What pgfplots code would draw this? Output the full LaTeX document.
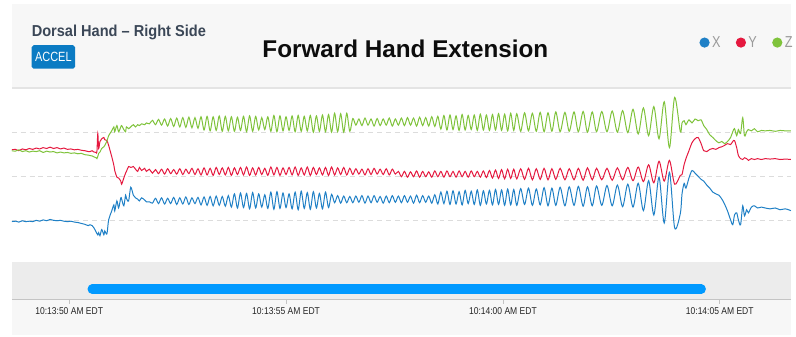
\documentclass[border=0pt]{standalone}
\usepackage{fontspec}
\setmainfont{Liberation Sans}
\usepackage{graphicx}
\usepackage{pgfplots}
\usepackage{pgfplotstable}
\pgfplotsset{compat=1.18}

\definecolor{seriesX}{HTML}{1F80C6}
\definecolor{seriesY}{HTML}{E5193F}
\definecolor{seriesZ}{HTML}{7FC33B}
\definecolor{headerbg}{HTML}{F7F7F7}
\definecolor{headerrule}{HTML}{E4E4E4}
\definecolor{navbg}{HTML}{ECECEC}
\definecolor{navbar}{HTML}{0099FF}
\definecolor{badge}{HTML}{0B7BC3}
\definecolor{subtitle}{HTML}{3B4757}
\definecolor{legendtext}{HTML}{9A9A9A}
\definecolor{gridgray}{HTML}{DCDCDC}
\definecolor{axisgray}{HTML}{C4C4C4}

% accelerometer samples: t = seconds after 10:13:00, X/Y/Z in g
\pgfplotstableread{
t X Y Z
48.67 -1.03 0.60 0.58
48.76 -1.02 0.61 0.57
48.84 -1.04 0.58 0.60
48.92 -1.01 0.62 0.56
49.00 -1.03 0.60 0.58
49.08 -1.02 0.63 0.55
49.16 -1.03 0.61 0.57
49.24 -1.00 0.64 0.56
49.32 -1.02 0.62 0.58
49.40 -0.99 0.65 0.54
49.48 -1.01 0.63 0.57
49.56 -0.98 0.66 0.55
49.64 -1.00 0.63 0.56
49.72 -1.01 0.65 0.53
49.80 -1.00 0.62 0.55
49.88 -1.02 0.64 0.53
49.96 -1.03 0.61 0.54
50.04 -1.02 0.62 0.52
50.12 -1.04 0.60 0.53
50.20 -1.05 0.61 0.51
50.28 -1.07 0.59 0.52
50.36 -1.09 0.58 0.49
50.44 -1.12 0.56 0.48
50.48 -1.10 0.56 0.47
50.53 -1.12 0.58 0.46
50.57 -1.17 0.55 0.44
50.62 -1.26 0.54 0.42
50.64 -1.30 0.56 0.40
50.66 -1.33 0.97 0.45
50.68 -1.28 0.63 0.52
50.71 -1.35 0.79 0.55
50.75 -1.21 0.85 0.63
50.80 -1.33 0.88 0.67
50.82 -1.24 0.83 0.70
50.87 -1.31 0.81 0.80
50.91 -0.99 0.70 0.92
50.98 -0.79 0.45 1.03
51.03 -0.65 0.25 1.12
51.05 -0.79 0.13 1.01
51.10 -0.56 -0.02 1.15
51.14 -0.72 -0.04 1.01
51.19 -0.49 -0.11 1.12
51.21 -0.52 -0.18 1.15
51.26 -0.67 -0.04 1.06
51.30 -0.43 0.07 1.01
51.32 -0.50 0.11 1.12
51.37 -0.56 0.22 1.08
51.42 -0.25 0.20 1.12
51.48 -0.43 0.22 1.17
51.53 -0.49 0.16 1.12
51.58 -0.52 0.11 1.17
51.62 -0.56 0.20 1.15
51.67 -0.49 0.13 1.19
51.74 -0.54 0.18 1.17
51.78 -0.58 0.11 1.21
51.85 -0.58 0.16 1.19
51.92 -0.61 0.07 1.27
51.99 -0.50 0.15 1.17
52.06 -0.62 0.06 1.29
52.13 -0.49 0.16 1.16
52.20 -0.63 0.05 1.30
52.27 -0.50 0.17 1.14
52.34 -0.62 0.06 1.31
52.41 -0.48 0.15 1.13
52.48 -0.64 0.05 1.32
52.55 -0.49 0.17 1.12
52.62 -0.63 0.04 1.33
52.69 -0.47 0.16 1.11
52.76 -0.64 0.06 1.34
52.83 -0.49 0.18 1.10
52.90 -0.62 0.04 1.33
52.97 -0.48 0.17 1.09
53.04 -0.65 0.03 1.35
53.11 -0.47 0.19 1.05
53.18 -0.66 0.03 1.36
53.25 -0.46 0.18 1.03
53.32 -0.67 0.02 1.35
53.39 -0.45 0.20 1.04
53.46 -0.66 0.04 1.37
53.53 -0.46 0.19 1.02
53.60 -0.68 0.03 1.36
53.67 -0.44 0.20 1.03
53.74 -0.70 0.02 1.35
53.81 -0.40 0.19 1.02
53.88 -0.72 0.04 1.34
53.95 -0.38 0.20 1.04
54.02 -0.71 0.03 1.36
54.09 -0.39 0.21 1.01
54.16 -0.74 0.02 1.37
54.23 -0.37 0.19 1.02
54.30 -0.72 0.03 1.36
54.37 -0.40 0.20 1.05
54.44 -0.70 0.04 1.33
54.51 -0.42 0.18 1.06
54.58 -0.73 0.02 1.35
54.65 -0.36 0.21 1.02
54.72 -0.75 0.03 1.38
54.79 -0.35 0.20 1.01
54.86 -0.73 0.02 1.37
54.93 -0.38 0.19 1.03
55.00 -0.71 0.04 1.35
55.07 -0.40 0.20 1.04
55.14 -0.74 0.03 1.37
55.21 -0.36 0.21 1.01
55.28 -0.76 0.02 1.38
55.35 -0.34 0.19 1.02
55.42 -0.73 0.03 1.36
55.49 -0.37 0.21 1.03
55.56 -0.75 0.02 1.38
55.63 -0.35 0.20 1.00
55.70 -0.72 0.04 1.37
55.77 -0.39 0.19 1.02
55.84 -0.74 0.03 1.39
55.91 -0.36 0.20 1.01
55.98 -0.71 0.02 1.40
56.05 -0.41 0.21 1.00
56.12 -0.60 0.03 1.43
56.19 -0.44 0.19 1.01
56.26 -0.61 0.04 1.42
56.33 -0.45 0.20 1.00
56.40 -0.60 0.03 1.43
56.47 -0.46 0.18 1.02
56.54 -0.60 0.04 1.31
56.61 -0.45 0.17 1.16
56.68 -0.59 0.05 1.30
56.75 -0.44 0.16 1.15
56.82 -0.61 0.03 1.32
56.89 -0.45 0.17 1.16
56.96 -0.60 0.04 1.30
57.03 -0.44 0.18 1.14
57.10 -0.59 0.05 1.31
57.17 -0.46 0.16 1.15
57.24 -0.61 0.04 1.30
57.31 -0.45 0.17 1.16
57.38 -0.60 0.03 1.32
57.45 -0.44 0.16 1.14
57.52 -0.59 0.05 1.30
57.59 -0.45 0.11 1.16
57.66 -0.60 -0.01 1.32
57.73 -0.44 0.11 1.15
57.80 -0.59 -0.02 1.33
57.87 -0.45 0.10 1.16
57.94 -0.61 -0.01 1.32
58.01 -0.43 0.12 1.14
58.08 -0.60 -0.02 1.34
58.15 -0.44 0.11 1.15
58.22 -0.59 -0.01 1.33
58.29 -0.45 0.10 1.14
58.36 -0.61 -0.02 1.35
58.43 -0.42 0.12 1.13
58.50 -0.63 -0.01 1.36
58.57 -0.36 0.11 1.07
58.64 -0.62 -0.02 1.38
58.71 -0.34 0.12 1.05
58.78 -0.64 -0.01 1.39
58.85 -0.33 0.11 1.06
58.92 -0.63 -0.02 1.37
58.99 -0.35 0.12 1.04
59.06 -0.65 -0.01 1.40
59.13 -0.32 0.11 1.05
59.20 -0.62 -0.02 1.38
59.27 -0.34 0.12 1.06
59.34 -0.64 -0.01 1.39
59.41 -0.31 0.11 1.04
59.48 -0.66 -0.02 1.41
59.55 -0.33 0.12 1.05
59.62 -0.63 -0.03 1.39
59.69 -0.32 0.13 1.04
59.76 -0.65 -0.04 1.40
59.83 -0.30 0.14 1.05
59.90 -0.64 -0.05 1.42
59.97 -0.31 0.15 1.04
60.04 -0.66 -0.06 1.41
60.11 -0.29 0.16 1.03
60.18 -0.65 -0.05 1.43
60.25 -0.30 0.16 1.04
60.32 -0.66 -0.06 1.42
60.41 -0.28 0.17 1.02
60.50 -0.64 -0.07 1.44
60.59 -0.27 0.18 1.03
60.68 -0.66 -0.08 1.43
60.77 -0.29 0.17 1.02
60.86 -0.65 -0.07 1.45
60.95 -0.26 0.18 1.01
61.04 -0.67 -0.08 1.44
61.13 -0.27 0.17 1.02
61.22 -0.66 -0.07 1.46
61.32 -0.25 0.18 1.01
61.43 -0.67 -0.08 1.45
61.53 -0.24 0.17 1.02
61.64 -0.66 -0.08 1.46
61.74 -0.23 0.18 1.01
61.85 -0.68 -0.09 1.47
61.95 -0.24 0.19 1.00
62.06 -0.67 -0.08 1.46
62.16 -0.22 0.18 1.01
62.28 -0.66 -0.08 1.47
62.40 -0.21 0.18 1.01
62.52 -0.67 -0.09 1.48
62.64 -0.20 0.19 1.00
62.76 -0.69 -0.08 1.49
62.88 -0.18 0.20 0.99
63.00 -0.70 -0.10 1.52
63.12 -0.16 0.21 0.96
63.24 -0.78 -0.12 1.55
63.36 -0.10 0.26 0.92
63.48 -0.88 -0.15 1.58
63.60 -0.02 0.34 0.85
63.72 -1.06 -0.11 1.69
63.84 0.09 0.36 0.65
63.96 -1.17 -0.18 1.79
64.09 -0.85 0.02 1.01
64.13 -0.40 0.04 1.21
64.18 -0.16 0.27 1.26
64.22 -0.27 0.40 1.17
64.29 -0.04 0.58 1.28
64.36 0.13 0.76 1.21
64.43 0.07 0.85 1.30
64.50 0.00 0.88 1.26
64.57 -0.07 0.74 1.28
64.63 -0.11 0.58 1.15
64.70 -0.20 0.56 1.06
64.77 -0.27 0.61 0.94
64.84 -0.36 0.63 0.88
64.91 -0.40 0.61 0.81
64.98 -0.43 0.65 0.76
65.05 -0.52 0.67 0.79
65.11 -0.63 0.70 0.74
65.18 -0.79 0.74 0.79
65.25 -0.99 0.72 0.88
65.30 -1.10 0.79 1.01
65.34 -0.88 0.81 1.08
65.39 -0.83 0.65 0.92
65.43 -0.99 0.47 1.06
65.48 -1.10 0.40 0.97
65.53 -0.67 0.38 1.33
65.57 -0.90 0.42 0.92
65.62 -0.76 0.40 1.01
65.66 -0.83 0.36 1.06
65.73 -0.70 0.40 1.03
65.80 -0.67 0.38 1.08
65.87 -0.72 0.40 1.01
65.96 -0.70 0.38 1.04
66.05 -0.72 0.40 1.03
66.16 -0.74 0.39 1.04
66.28 -0.72 0.40 1.02
66.39 -0.76 0.38 1.04
66.51 -0.74 0.39 1.03
66.64 -0.78 0.38 1.03
}\accel

\begin{document}
\begin{tikzpicture}[x=1pt,y=1pt]
% page frame and panel backgrounds
\fill[white] (0,0) rectangle (796,340);
\fill[headerbg] (9,252) rectangle (796,336);
\fill[headerrule] (9,250.5) rectangle (796,252);
\fill[navbg] (9,38) rectangle (796,75);
\fill[headerbg] (9,2) rectangle (796,38);
% range navigator handle
\draw[navbar, line width=9.4pt, line cap=round] (90.2,48) -- (705.3,48);

% header texts
\node[anchor=base west, inner sep=0pt, text=subtitle] at (29,303)
  {\fontsize{16}{16}\selectfont\bfseries\scalebox{0.92}[1]{Dorsal Hand – Right Side}};
\fill[badge, rounded corners=2pt] (29,270.7) rectangle (73,294.3);
\node[anchor=base, inner sep=0pt, text=white] at (51,277.7)
  {\fontsize{13.5}{13.5}\selectfont\scalebox{0.82}[1]{ACCEL}};
\node[anchor=base west, inner sep=0pt, text=black!95] at (262,282)
  {\fontsize{24.5}{24.5}\selectfont\bfseries Forward Hand Extension};

\begin{axis}[
  at={(9pt,38pt)}, anchor=south west,
  width=787pt, height=213pt, scale only axis,
  xmin=48.676, xmax=66.644,
  ymin=-2.7865, ymax=2,
  axis line style={draw=none},
  xtick={50,55,60,65},
  xticklabels={{\scalebox{0.86}[1]{10:13:50 AM EDT}},{\scalebox{0.86}[1]{10:13:55 AM EDT}},
               {\scalebox{0.86}[1]{10:14:00 AM EDT}},{\scalebox{0.86}[1]{10:14:05 AM EDT}}},
  xticklabel style={font=\fontsize{10}{10}\selectfont, text=black!85},
  xtick pos=left, tick align=outside, major tick length=5pt,
  xtick style={draw=axisgray, line width=0.8pt},
  ytick={-1,0,1}, yticklabels={}, ytick style={draw=none},
  ymajorgrids,
  major grid style={draw=gridgray, dash pattern=on 5pt off 4pt, line width=1pt},
  legend image code/.code={\fill (4.6pt,0pt) circle (4.6pt);},
  legend style={at={(axis description cs:0.8825,1.216)}, anchor=west,
    draw=none, fill=none, inner sep=0pt, outer sep=0pt,
    font=\fontsize{16}{16}\selectfont, text=legendtext,
    legend columns=-1,
    nodes={inner xsep=2.5pt, inner ysep=0pt},
    /tikz/every even column/.append style={column sep=13pt}},
]
\addplot[seriesX, line width=1pt, no markers, smooth, tension=0.5] table[x=t, y=X] {\accel};
\addplot[seriesY, line width=1pt, no markers, smooth, tension=0.5] table[x=t, y=Y] {\accel};
\addplot[seriesZ, line width=1pt, no markers, smooth, tension=0.5] table[x=t, y=Z] {\accel};
\legend{\scalebox{0.8}[1]{X},\scalebox{0.8}[1]{Y},\scalebox{0.8}[1]{Z}}
\end{axis}
% time axis baseline
\draw[axisgray, line width=1pt] (9,38) -- (796,38);
\end{tikzpicture}
\end{document}
